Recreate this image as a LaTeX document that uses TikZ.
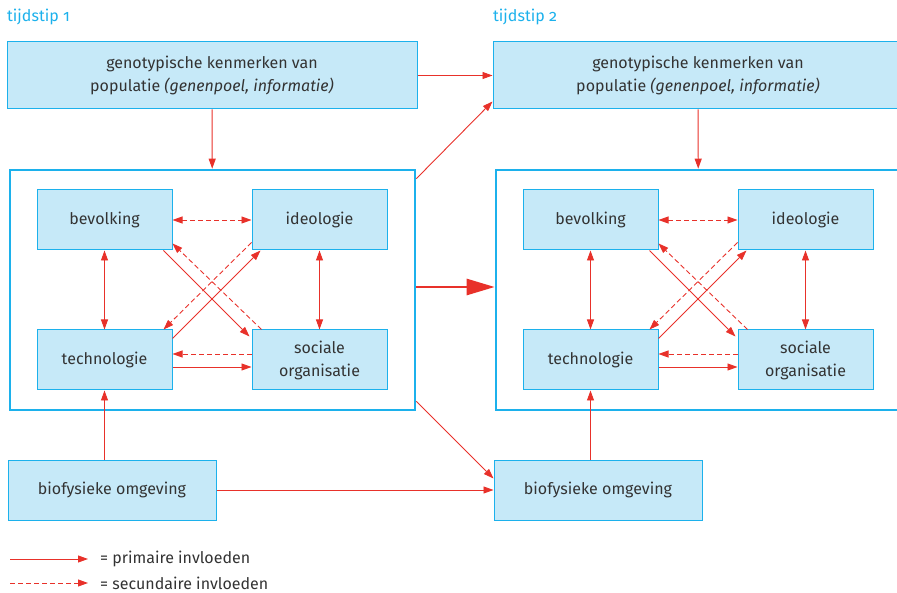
\documentclass[tikz,border=0pt]{standalone}
\usepackage{fontspec}
\setmainfont{Fira Sans}[Numbers=OldStyle]
\usetikzlibrary{arrows.meta,positioning,calc}
\definecolor{rood}{HTML}{E8312A}
\definecolor{kader}{HTML}{1CB1EC}
\definecolor{vlak}{HTML}{C6E9F8}
\definecolor{tekst}{HTML}{333333}
\tikzset{
  punt/.tip={Triangle[length=10pt,width=7pt]},
  blok/.style={draw=kader,fill=vlak,line width=1pt,text=tekst,align=center,inner sep=0pt},
  binnen/.style={blok,minimum width=135pt,minimum height=60pt},
  kaderbox/.style={draw=kader,line width=2.6pt,inner sep=0pt},
  tijd/.style={anchor=base west,inner sep=0pt,text=kader},
  primair/.style={draw=rood,line width=0.9pt,-punt},
  tweezijdig/.style={draw=rood,line width=0.9pt,punt-punt},
  streep/.style={dash pattern=on 5pt off 3pt},
  secundair/.style={primair,streep},
  legende/.style={anchor=west,inner sep=0pt,text=tekst}
}
\begin{document}
\begin{tikzpicture}[x=1pt,y=-1pt,font=\fontsize{16}{23}\selectfont]
  \useasboundingbox (0,0) rectangle (897,593);
  \clip (0,0) rectangle (897,593);
  \foreach \s/\dx in {1/0,2/486} {
    \node[tijd] (tijd\s) at (7+\dx,22) {tijdstip \s};
    \node[blok,minimum width=410pt,minimum height=67pt] (top\s) at (212+\dx,75.5)
      {genotypische kenmerken van\\populatie \textit{(genenpoel, informatie)}};
    \node[kaderbox,minimum width=405pt,minimum height=240pt] (kader\s) at (212.5+\dx,290) {};
    \node[binnen] (bev\s)  at (104.5+\dx,220) {bevolking};
    \node[binnen] (ideo\s) at (319.5+\dx,220) {ideologie};
    \node[binnen] (tech\s) at (104.5+\dx,360) {technologie};
    \node[binnen] (soc\s)  at (319.5+\dx,360) {sociale\\organisatie};
    \node[blok,minimum width=208pt,minimum height=60pt] (bio\s) at (112+\dx,490) {biofysieke omgeving};
    % invloeden binnen het kader
    \draw[tweezijdig,streep] (bev\s) -- (ideo\s);
    \draw[tweezijdig] (bev\s) -- (tech\s);
    \draw[tweezijdig] (ideo\s) -- (soc\s);
    \draw[secundair] ([yshift=6pt]soc\s.west) -- ([yshift=6pt]soc\s.west -| tech\s.east);
    \draw[primair] ([yshift=-7pt]tech\s.east) -- ([yshift=-7pt]tech\s.east -| soc\s.west);
    \draw[primair] ([xshift=-9pt]bev\s.south east) -- ([xshift=-2pt,yshift=-7pt]soc\s.north west);
    \draw[secundair] ([xshift=10pt]soc\s.north west) -- ([yshift=7pt]bev\s.south east);
    \draw[primair] ([yshift=-9pt]tech\s.north east) -- ([xshift=9pt]ideo\s.south west);
    \draw[secundair] ([yshift=8pt]ideo\s.south west) -- ([xshift=-9pt]tech\s.north east);
    % van buiten naar binnen
    \draw[primair] (top\s) -- (kader\s);
    \draw[primair] (bio\s.north -| tech\s) -- (tech\s);
  }
  % van tijdstip 1 naar tijdstip 2
  \draw[primair] (top1) -- (top2);
  \draw[primair] (bio1) -- (bio2);
  \draw[primair] ([yshift=-10pt]kader1.north east) -- ([yshift=8pt]top2.south west);
  \draw[primair] ([yshift=10pt]kader1.south east) -- ([yshift=-19pt]bio2.north west);
  \draw[draw=rood,line width=2.6pt,-{Triangle[length=28pt,width=16pt]}] ([yshift=3pt]kader1.east) -- ([yshift=3pt]kader2.west);
  % legenda
  \node[legende] (primtekst) at (100,559) {= primaire invloeden};
  \node[legende] (sectekst) at (100,583) {= secundaire invloeden};
  \coordinate (prim) at (10,559);
  \coordinate (sec) at (10,583);
  \draw[primair] (prim) -- ([xshift=-12pt]primtekst.west);
  \draw[secundair] (sec) -- ([xshift=-12pt]sectekst.west);
\end{tikzpicture}
\end{document}
